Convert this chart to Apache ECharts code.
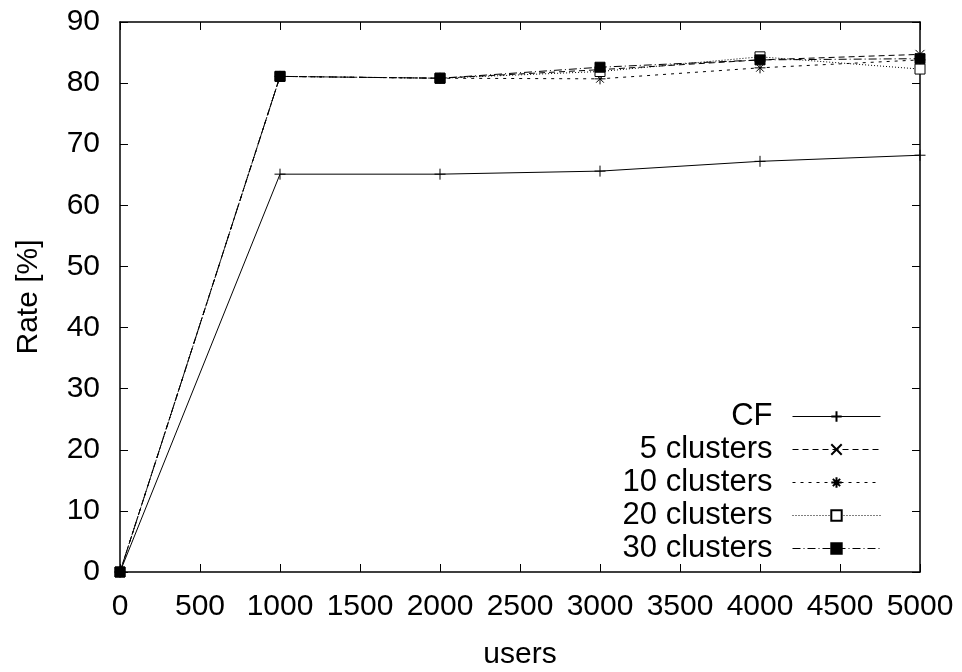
<!DOCTYPE html>
<html>
<head>
<meta charset="utf-8">
<script src="https://cdn.jsdelivr.net/npm/echarts@6/dist/echarts.min.js"></script>
<style>
  html, body { margin: 0; padding: 0; background: #fff; }
  #main { width: 962px; height: 672px; }
</style>
</head>
<body>
<div id="main"></div>
<script>
// users (x) and rate values
const users = [0, 1000, 2000, 3000, 4000, 5000]
const cf = [0, 65.1, 65.1, 65.6, 67.2, 68.2]
const c5 = [0, 81.1, 80.8, 82.2, 83.8, 84.7]
const c10 = [0, 81.1, 80.8, 80.7, 82.5, 83.8]
const c20 = [0, 81.1, 80.8, 81.9, 84.3, 82.3]
const c30 = [0, 81.1, 80.8, 82.6, 83.8, 84.0]
const names = ['CF', '5 clusters', '10 clusters', '20 clusters', '30 clusters']

const font = 'Liberation Sans, Arial, sans-serif'
const fs = 30
// gnuplot style point shapes
const plus = 'path://M5,0L5,10M0,5L10,5'
const cross = 'path://M0,0L10,10M10,0L0,10'
const star = 'path://M5,0L5,10M0,5L10,5M1.5,1.5L8.5,8.5M8.5,1.5L1.5,8.5'

let pairs = (ys) => users.map((u, i) => [u, ys[i]])

let mkSeries = (name, ys, symbol, size, dash, fill) => ({
  name: name,
  type: 'line',
  data: pairs(ys),
  symbol: symbol,
  symbolSize: size,
  showSymbol: true,
  animation: false,
  lineStyle: { color: '#000', width: 1, type: dash },
  itemStyle: { color: fill, borderColor: '#000', borderWidth: 1 }
})

let chart = echarts.init(document.getElementById('main'))

let tickIn = { show: true, inside: true, length: 8, lineStyle: { color: '#000', width: 1 } }
let lineBlack = { show: true, onZero: false, lineStyle: { color: '#000', width: 1.5 } }
let plain = (v) => String(v)

let option = {
  backgroundColor: '#fff',
  animation: false,
  grid: { left: 120, right: 42, top: 22, bottom: 100, show: false, containLabel: false, outerBoundsMode: 'none' },
  legend: {
    orient: 'vertical',
    right: 81,
    top: 400,
    padding: 0,
    align: 'right',
    itemWidth: 88,
    itemHeight: 13,
    itemGap: 0,
    data: names,
    lineStyle: { width: 1 },
    textStyle: { fontFamily: font, fontSize: 31, color: '#000', lineHeight: 33, padding: [0, 15, 0, 0] }
  },
  xAxis: [
    {
      type: 'value', min: 0, max: 5000, interval: 500,
      name: 'users', nameLocation: 'middle', nameGap: 68,
      nameTextStyle: { fontFamily: font, fontSize: fs, color: '#000' },
      axisLine: lineBlack, axisTick: tickIn, splitLine: { show: false },
      axisLabel: { fontFamily: font, fontSize: fs, color: '#000', margin: 20, formatter: plain }
    },
    {
      type: 'value', min: 0, max: 5000, interval: 500, position: 'top',
      axisLine: lineBlack, axisTick: tickIn, splitLine: { show: false },
      axisLabel: { show: false }
    }
  ],
  yAxis: [
    {
      type: 'value', min: 0, max: 90, interval: 10,
      name: 'Rate [%]', nameLocation: 'middle', nameGap: 76, nameRotate: 90,
      nameTextStyle: { fontFamily: font, fontSize: fs, color: '#000' },
      axisLine: lineBlack, axisTick: tickIn, splitLine: { show: false },
      axisLabel: { fontFamily: font, fontSize: fs, color: '#000', margin: 20, formatter: plain }
    },
    {
      type: 'value', min: 0, max: 90, interval: 10, position: 'right',
      axisLine: lineBlack, axisTick: tickIn, splitLine: { show: false },
      axisLabel: { show: false }
    }
  ],
  series: [
    mkSeries(names[0], cf, plus, 11, 'solid', 'none'),
    mkSeries(names[1], c5, cross, 9, [6, 4], 'none'),
    mkSeries(names[2], c10, star, 11, [3, 5], 'none'),
    mkSeries(names[3], c20, 'rect', 10, [1, 2], '#fff'),
    mkSeries(names[4], c30, 'rect', 10, [8, 3, 1, 3], '#000')
  ]
}
chart.setOption(option)
</script>
</body>
</html>
